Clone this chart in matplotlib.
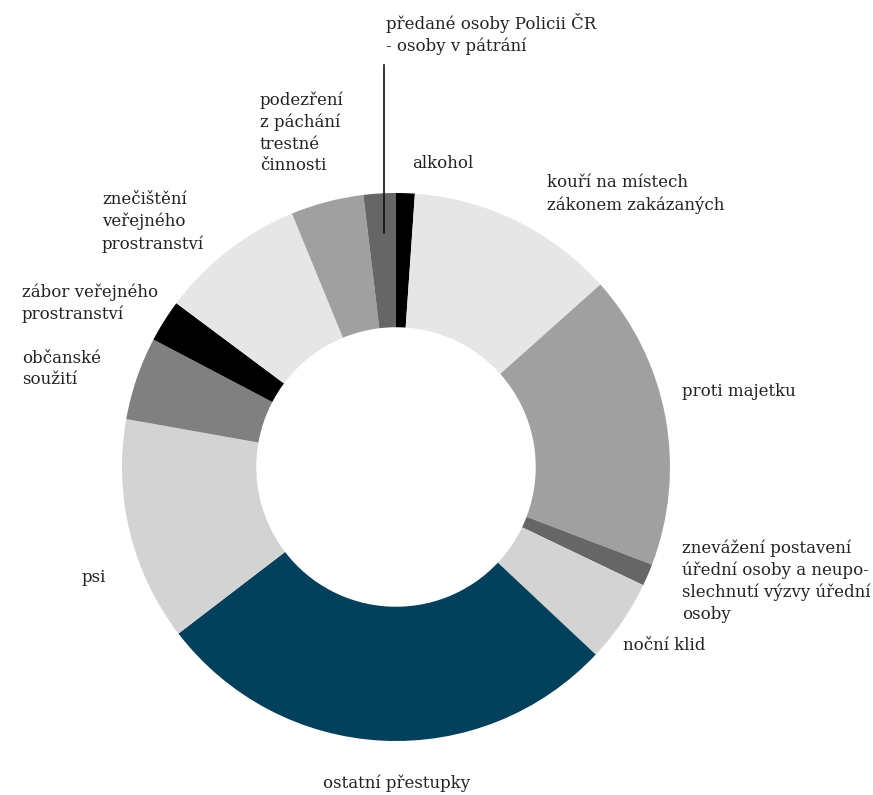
import matplotlib
matplotlib.use("Agg")
import matplotlib.pyplot as plt

categories = ["alkohol", "kouří na místech zákonem zakázaných", "proti majetku",
              "znevážení postavení úřední osoby a neuposlechnutí výzvy úřední osoby",
              "noční klid", "ostatní přestupky", "psi", "občanské soužití",
              "zábor veřejného prostranství", "znečištění veřejného prostranství",
              "podezření z páchání trestné činnosti",
              "předané osoby Policii ČR - osoby v pátrání"]
values = [1.1, 12.3, 17.4, 1.3, 4.9, 27.6, 13.2, 4.9, 2.5, 8.6, 4.3, 1.9]
colors = ["#000000", "#e6e6e6", "#a0a0a0", "#666666", "#d3d3d3", "#02405b",
          "#d3d3d3", "#808080", "#000000", "#e6e6e6", "#a0a0a0", "#666666"]

W, H = 873, 795
fig = plt.figure(figsize=(W / 100, H / 100), dpi=100)
ax = fig.add_axes([0, 0, 1, 1])
ax.set_xlim(0, W)
ax.set_ylim(0, H)
ax.set_aspect("equal")
ax.axis("off")

cx, cy, R = 396, H - 467, 274
ax.pie(values, colors=colors, startangle=90, counterclock=False,
       center=(cx, cy), radius=R, frame=True,
       wedgeprops=dict(width=R * 0.49, linewidth=0))
ax.set_xlim(0, W)
ax.set_ylim(0, H)
ax.axis("off")

font = dict(family="DejaVu Serif", fontsize=12, color="#222222",
            linespacing=1.35, ha="left", va="center")

def lab(x, y, s):
    ax.text(x, H - y, s, **font)

lab(386, 34, "předané osoby Policii ČR\n- osoby v pátrání")
ax.plot([384, 384], [H - 65, H - 233], color="#111111", lw=1.2)
lab(260, 133, "podezření\nz páchání\ntrestné\nčinnosti")
lab(412, 163, "alkohol")
lab(547, 194, "kouří na místech\nzákonem zakázaných")
lab(682, 392, "proti majetku")
lab(682, 581, "znevážení postavení\núřední osoby a neupo-\nslechnutí výzvy úřední\nosoby")
lab(623, 645, "noční klid")
lab(323, 783, "ostatní přestupky")
lab(82, 578, "psi")
lab(22, 369, "občanské\nsoužití")
lab(22, 303, "zábor veřejného\nprostranství")
lab(102, 222, "znečištění\nveřejného\nprostranství")

fig.savefig("out.png", dpi=100)
